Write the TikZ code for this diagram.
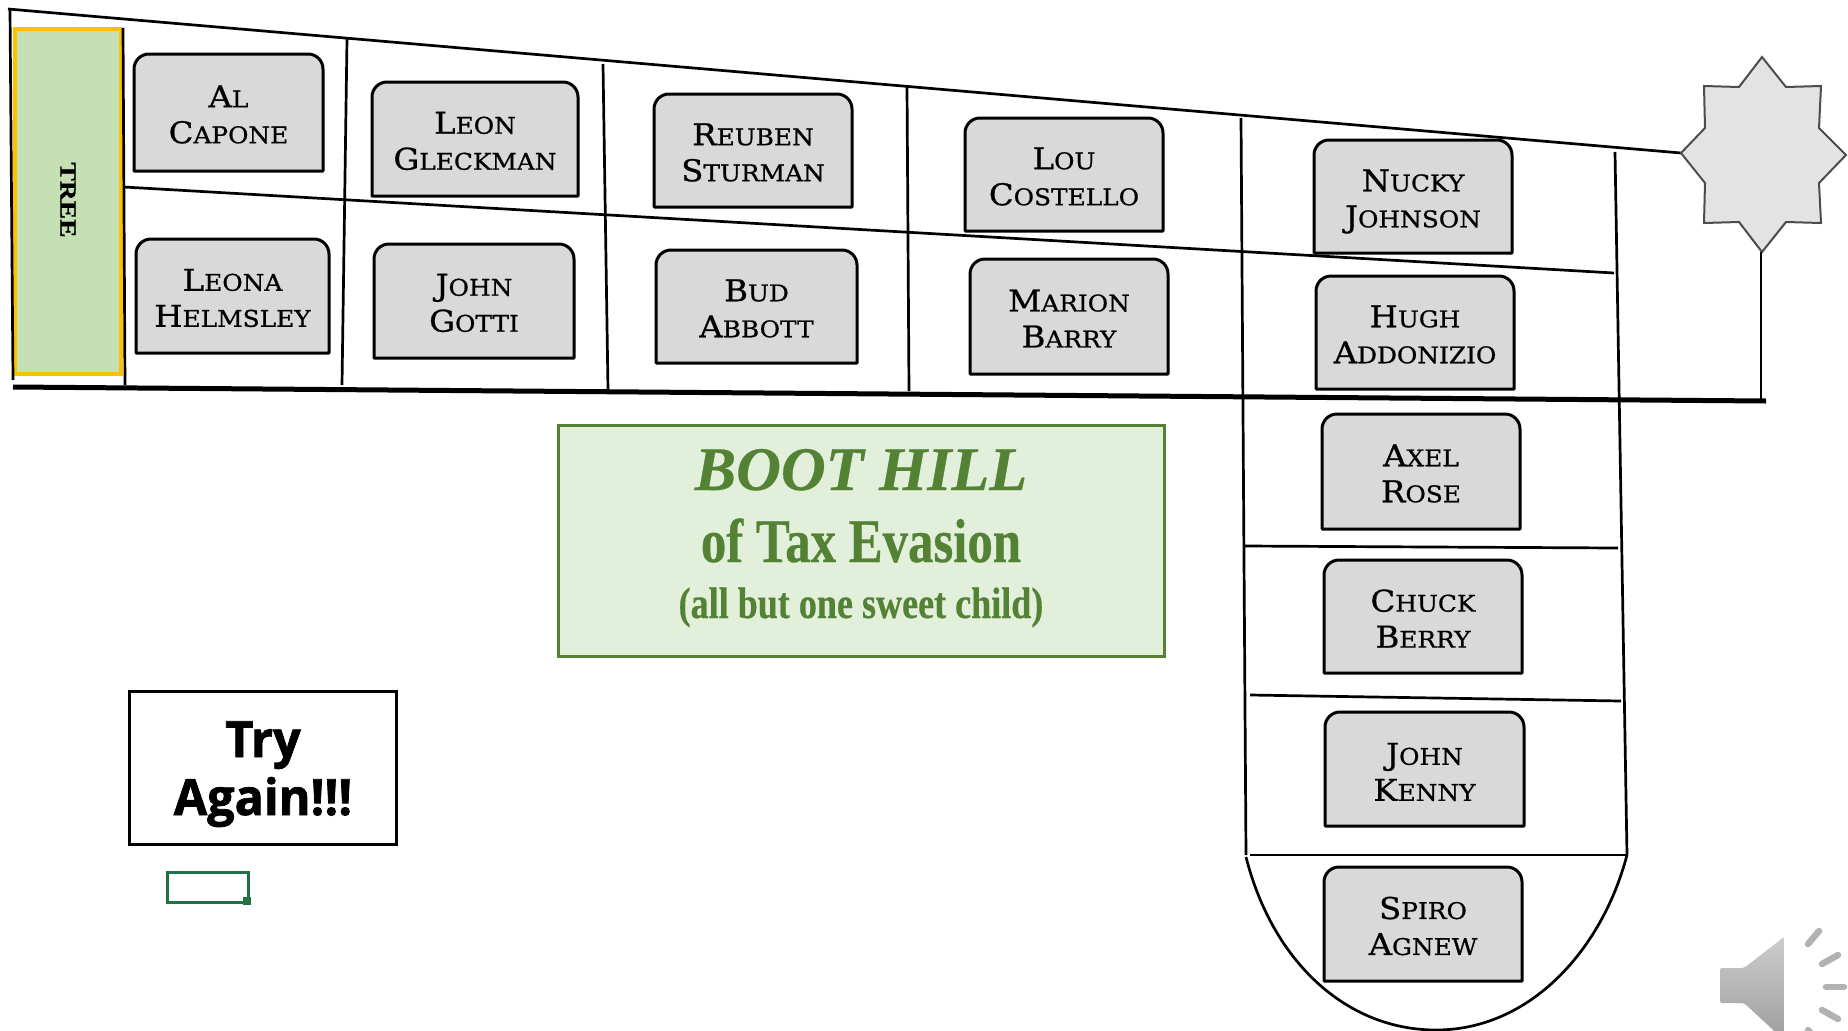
\documentclass[tikz,border=0pt]{standalone}
\usepackage{fontspec}
\setmainfont[FakeStretch=1.08,FakeBold=0.8]{DejaVu Serif}
\newfontfamily\treefont[FakeStretch=1.2,FakeBold=1]{Liberation Serif Bold}
\newfontfamily\againfont[FakeBold=1.5,FakeStretch=0.97]{Open Sans Bold}
\newfontfamily\hillfont[FakeStretch=0.82,FakeBold=0.4]{Liberation Serif Bold}
\newfontfamily\hilltitle[FakeStretch=1.0,FakeBold=0.4]{Liberation Serif Bold Italic}
\definecolor{boxgrey}{HTML}{D9D9D9}
\definecolor{treegreen}{HTML}{C5E0B4}
\definecolor{treegold}{HTML}{FFC000}
\definecolor{hillgreen}{HTML}{548235}
\definecolor{hillfill}{HTML}{E2EFDA}
\definecolor{cellgreen}{HTML}{217346}
\definecolor{stargrey}{HTML}{E3E3E3}
\newcommand\cc[2]{{\fontsize{30}{36}\selectfont #1}\MakeUppercase{#2}}
\newcommand\plotbox[7][0]{%
  \draw[plotline] (#3,#6) [rounded corners=15] -- (#3,#4) -- (#5,#4) [sharp corners] -- (#5,#6) -- cycle;
  \node[plottext] (#2) at ({(#3+#5)/2},{(#4+#6)/2+2+#1}) {#7};}
\tikzset{
  x=1pt,y=-1pt,
  plotline/.style={draw=black,fill=boxgrey,line width=3pt,line join=round},
  plottext/.style={align=center,inner sep=0pt,font=\fontsize{23}{36}\selectfont},
  grid/.style={draw=black,line width=2.7pt},
  hilltext/.style={text=hillgreen,anchor=base,inner sep=0pt},
  ray/.style={draw=black!30,line width=6.5pt,line cap=round}
}
\begin{document}
\begin{tikzpicture}
\useasboundingbox (0,0) rectangle (1848,1031);
\clip (0,0) rectangle (1848,1031);
% tree
\node[draw=treegold,fill=treegreen,line width=3.2pt,minimum width=106pt,minimum height=345pt,inner sep=0pt] (tree) at (68,201.5) {};
\node[rotate=-90,inner sep=0pt,font=\fontsize{23}{23}\treefont] (treelabel) at (68,200) {TREE};
% grounds
\draw[grid] (8,9) -- (1681,153);
\draw[grid] (10,9) -- (13,380);
\draw[grid] (123,28) -- (125,385);
\draw[grid] (124,187) -- (1614,273);
\draw[grid] (347,39) -- (342,385);
\draw[grid] (603,64) -- (608,390);
\draw[grid] (907,87) -- (909,391);
\draw[grid] (1241,118) -- (1246,855);
\draw[grid] (1615,152) -- (1627,855);
\draw[grid] (1245,546) -- (1618,548);
\draw[grid] (1250,695) -- (1621,701);
\draw[grid] (1250,855) -- (1627,855);
\draw[grid] (1246,857) .. controls (1272,960) and (1345,1030) .. (1436,1030) .. controls (1530,1030) and (1602,950) .. (1627,855);
\draw[draw=black,line width=5pt] (13,387) -- (1766,401);
% star
\draw[draw=black!70,fill=stargrey,line width=2pt,line join=miter]
  (1762,57) -- (1786,87) -- (1821,86) -- (1819,128) -- (1846,155) -- (1819,183) -- (1821,223) -- (1786,222)
  -- (1762,252) -- (1739,222) -- (1704,223) -- (1705,183) -- (1681,153) -- (1705,128) -- (1704,86) -- (1739,87) -- cycle;
\coordinate (stem) at (1761,252);
\coordinate (stemfoot) at (1761,401);
\draw[grid] (stem) -- (stemfoot);
% plots
\plotbox{capone}{134}{54}{323}{171}{\cc{A}{l}\\\cc{C}{apone}}
\plotbox{helmsley}{136}{239}{329}{353}{\cc{L}{eona}\\\cc{H}{elmsley}}
\plotbox{gleckman}{372}{82}{578}{196}{\cc{L}{eon}\\\cc{G}{leckman}}
\plotbox{gotti}{374}{244}{574}{358}{\cc{J}{ohn}\\\cc{G}{otti}}
\plotbox{sturman}{654}{94}{852}{207}{\cc{R}{euben}\\\cc{S}{turman}}
\plotbox{abbott}{656}{250}{857}{363}{\cc{B}{ud}\\\cc{A}{bbott}}
\plotbox{costello}{965}{118}{1163}{231}{\cc{L}{ou}\\\cc{C}{ostello}}
\plotbox{barry}{970}{259}{1168}{374}{\cc{M}{arion}\\\cc{B}{arry}}
\plotbox[3]{johnson}{1314}{140}{1512}{253}{\cc{N}{ucky}\\\cc{J}{ohnson}}
\plotbox{addonizio}{1316}{276}{1514}{389}{\cc{H}{ugh}\\\cc{A}{ddonizio}}
\plotbox{rose}{1322}{414}{1520}{529}{\cc{A}{xel}\\\cc{R}{ose}}
\plotbox{berry}{1324}{560}{1522}{673}{\cc{C}{huck}\\\cc{B}{erry}}
\plotbox[1]{kenny}{1325}{712}{1524}{826}{\cc{J}{ohn}\\\cc{K}{enny}}
\plotbox{agnew}{1324}{867}{1522}{981}{\cc{S}{piro}\\\cc{A}{gnew}}
% boot hill sign
\node[draw=hillgreen,fill=hillfill,line width=3pt,minimum width=606pt,minimum height=231pt,inner sep=0pt] (sign) at (861,540.5) {};
\node[hilltext,font=\fontsize{62}{62}\hilltitle] (line1) at (861,490) {BOOT HILL};
\node[hilltext,font=\fontsize{62}{62}\hillfont] (line2) at (861,562) {of Tax Evasion};
\node[hilltext,font=\fontsize{44}{44}\hillfont] (line3) at (861,618) {(all but one sweet child)};
% try again
\node[draw=black,fill=white,line width=2.8pt,minimum width=267pt,minimum height=153pt,inner sep=0pt] (again) at (263,768) {};
\node[anchor=base,inner sep=0pt,font=\fontsize{50}{50}\againfont] (try) at (263,757) {Try};
\node[anchor=base,inner sep=0pt,font=\fontsize{50}{50}\againfont] (againlabel) at (263,815) {Again!!!};
% selected cell
\node[draw=cellgreen,line width=3pt,minimum width=81pt,minimum height=30pt,inner sep=0pt] (cell) at (208,887) {};
\node[fill=cellgreen,minimum size=8pt,inner sep=0pt] (cellhandle) at (247,901) {};
% speaker
\shade[top color=black!20,bottom color=black!38,rounded corners=2pt]
  (1720,968) -- (1744,968) -- (1784,937) -- (1784,1040) -- (1744,1003) -- (1720,1003) -- cycle;
\draw[ray] (1808,944) -- (1819,931);
\draw[ray] (1822,964) -- (1838,955);
\draw[ray] (1826,987) -- (1844,987);
\draw[ray] (1822,1010) -- (1838,1019);
\draw[ray] (1808,1030) -- (1819,1043);
\end{tikzpicture}
\end{document}
